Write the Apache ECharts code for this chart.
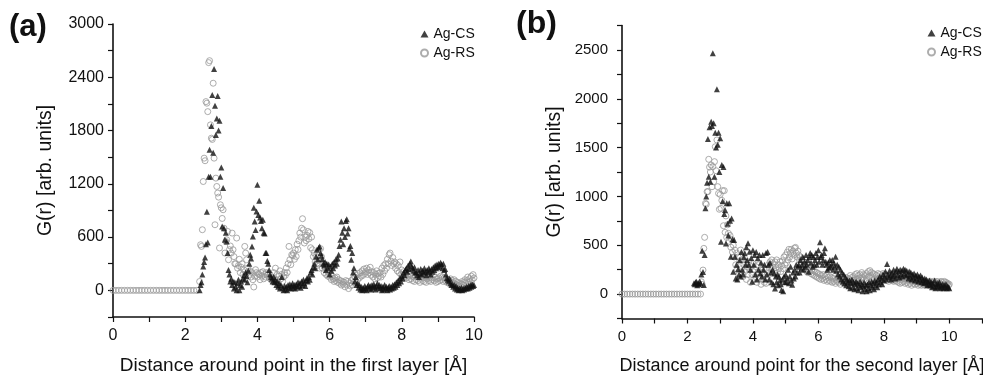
<!DOCTYPE html>
<html>
<head>
<meta charset="utf-8">
<script src="https://cdn.jsdelivr.net/npm/echarts@6/dist/echarts.min.js"></script>
<style>
  html, body { margin: 0; padding: 0; background: #fff; }
  #chart { width: 983px; height: 379px; }
</style>
</head>
<body>
<div id="chart"></div>
<script>
// Radial distribution G(r) around a point, first layer (a) and second layer (b).
// Samples are spaced R_STEP apart starting at each series' start radius;
// the flat G = 0 stretch below 2.4 Å is sampled every ZERO_STEP.
const R_STEP = 0.025;
const ZERO_STEP = 0.08;

const seriesNames = ['Ag-CS', 'Ag-RS'];
const xTitleA = 'Distance around point in the first layer [Å]';
const xTitleB = 'Distance around point for the second layer [Å]';
const yTitle = 'G(r) [arb. units]';

// G(r) = 0 region (r = 0 ... 2.32 Å)
const rsZeroA = [0,0,0,0,0,0,0,0,0,0,0,0,0,0,0,0,0,0,0,0,0,0,0,0,0,0,0,0,0,0];
const rsZeroB = [0,0,0,0,0,0,0,0,0,0,0,0,0,0,0,0,0,0,0,0,0,0,0,0,0,0,0,0,0,0];

// (a) Ag-CS, r from 2.40 Å
const csStartA = 2.4;
const csA = [
  0,60,90,180,270, 320,370,520,885,540, 1280,1583,1280,1850,2200, 1550,2494,2080,1750,1935, 2190,1800,1910,1280,1384, 720,1152,700,570,650, 550,420,230,180,100, 130,60,100,20,90,
  40,0,80,120,0, 60,100,40,130,170, 120,200,160,90,220, 300,400,360,495,607, 930,777,680,888,1190, 850,1008,820,780,700, 795,650,640,420,420, 330,300,230,180,150,
  130,100,150,90,120, 60,100,40,80,20, 60,150,30,0,50, 10,40,0,60,30, 70,20,50,80,30, 60,20,70,40,90, 50,80,30,100,60, 120,80,50,110,140,
  100,150,120,200,230, 180,260,300,250,380, 458,350,480,495,420, 390,350,300,280,320, 230,300,250,290,180, 270,220,300,250,320, 280,350,300,360,400, 500,570,776,650,520,
  700,600,780,800,640, 700,470,500,345,420, 200,250,100,150,60, 80,30,60,10,40, 0,30,10,50,20, 0,40,60,20,50, 10,60,30,70,40, 10,50,80,30,60,
  20,50,0,40,10, 60,20,40,0,30, 50,10,40,20,60, 30,70,40,90,60, 110,80,140,100,160, 130,200,170,230,250, 210,280,240,300,326, 270,250,220,260,200,
  200,170,230,150,190, 240,180,220,200,250, 210,170,230,200,250, 220,180,240,210,260, 230,280,250,290,260, 300,270,310,290,250, 300,230,240,180,140, 120,100,130,80,60,
  70,40,60,20,50, 10,30,0,20,10, 30,0,20,10,30, 20,40,20,50,30, 60,40,70,50,60
];

// (a) Ag-RS, r from 2.40 Å
const rsStartA = 2.4;
const rsA = [
  100,514,495,683,1226, 1489,1460,2126,2108,2013, 2565,2587,1864,1714,1700, 2333,1489,739,1264,1170, 1096,1050,477,964,930, 810,908,700,420,550, 570,664,345,458,500, 420,645,458,380,300,
  300,589,250,280,350, 200,260,300,180,230, 495,420,345,250,214, 180,220,150,200,120, 38,160,233,200,150, 190,177,120,200,160, 210,130,180,150,200, 170,190,140,180,120,
  150,100,200,130,250, 120,180,90,160,220, 130,180,100,150,200, 170,252,200,300,495, 345,290,400,390,420, 350,458,382,520,460, 560,645,600,700,807, 683,533,600,560,620,
  664,580,650,480,600, 458,380,420,320,380, 280,340,300,250,470, 380,250,300,200,260, 180,220,160,200,150, 180,120,160,130,100, 140,110,150,90,120, 80,110,60,100,70,
  90,40,110,60,100, 20,80,50,110,60, 130,90,150,100,170, 120,190,140,200,160, 220,170,240,190,210, 250,180,230,200,260, 170,210,150,200,130, 180,220,140,190,160,
  200,150,250,180,280, 220,300,250,350,300, 402,420,330,280,370, 300,320,250,300,220, 280,200,320,180,230, 170,210,150,190,140, 200,160,120,180,130, 170,110,150,100,160,
  120,170,110,150,90, 140,180,110,160,100, 140,90,130,160,110, 150,100,140,120,170, 110,150,90,130,100, 140,110,160,120,150, 100,140,110,130,90, 120,80,110,130,90,
  110,80,120,70,100, 60,90,50,80,40, 70,100,60,90,120, 80,110,150,90,130, 100,160,120,177,140
];

// (b) Ag-CS, r from 2.20 Å
const csStartB = 2.2;
const csB = [
  110,100,120,126,90,110,100,130,
  110,200,444,225,92, 400,878,1000,1140,1588, 1202,1708,1150,1765,1720, 2466,1748,1202,1653,1500, 2097,1530,1653,1250,1595, 536,1322,950,1300,820, 860,519,929,720,600, 929,750,382,775,560,
  228,553,382,160,300, 150,256,200,350,180, 430,250,200,380,417, 300,480,350,520,300, 433,250,370,126,450, 300,400,200,430,150, 366,250,400,212,320, 180,400,250,300,150,
  420,200,430,300,150, 320,220,120,250,100, 212,58,180,120,200, 90,177,140,100,41, 150,30,180,120,200, 125,160,250,110,180, 280,140,95,220,160, 250,180,300,220,280,
  300,220,350,260,300, 380,250,330,280,400, 300,350,228,380,420, 320,400,280,380,300, 350,420,300,380,450, 330,530,380,400,300, 350,420,470,330,300, 250,320,270,350,280,
  300,350,250,320,280, 382,240,300,200,280, 180,250,150,220,130, 200,110,170,90,150, 120,80,140,60,110, 150,70,120,50,100, 130,60,110,40,90, 130,70,100,30,80,
  120,50,90,30,100, 60,120,40,90,130, 70,110,50,140,90, 120,70,150,100,180, 120,160,100,200,140, 180,230,150,307,200, 170,240,190,150,220, 180,250,200,160,230,
  260,190,230,170,250, 200,240,180,260,210, 250,190,240,200,160, 230,180,220,150,200, 170,210,140,190,160, 200,130,180,150,190, 120,170,140,110,160, 120,150,90,130,100,
  140,90,120,70,110, 80,140,60,100,70, 110,80,120,60,90, 70,100,60,90,70, 100,60,80,70,60
];

// (b) Ag-RS, r from 2.40 Å
const rsStartB = 2.4;
const rsB = [
  0,126,100,246,468, 581,929,920,1048,1050, 1380,1300,1250,1322,1099, 1305,1150,1356,1509,1263, 1578,1100,1031,868,1020, 878,960,1059,700,1059, 632,800,580,710,622, 540,600,480,560,430,
  500,380,450,300,420, 250,380,200,340,451, 260,350,180,300,230, 320,150,280,200,330, 250,120,280,200,310, 150,250,180,280,120, 220,300,170,250,100, 220,150,260,120,200,
  110,250,180,300,220, 330,260,350,280,310, 240,330,270,350,220, 300,260,330,230,290, 340,260,380,300,400, 320,430,350,458,380, 420,458,360,440,400, 470,478,420,380,440,
  400,350,380,300,350, 280,330,260,300,240, 280,220,260,230,270, 210,250,200,240,190, 230,180,220,170,210, 160,200,150,190,160, 200,140,180,150,190, 130,170,140,180,130,
  170,120,160,130,180, 110,150,130,170,120, 160,100,150,130,170, 110,150,120,170,130, 160,110,150,190,130, 170,120,180,140,200, 150,210,160,190,140, 200,160,220,170,200,
  150,190,140,210,170, 230,180,240,190,220, 170,210,150,200,140, 190,150,210,160,200, 140,180,150,210,170, 200,150,190,140,180, 130,170,150,190,140, 180,130,170,140,160,
  130,170,120,160,110, 150,120,170,130,160, 110,150,120,140,100, 150,110,140,90,130, 110,150,100,140,110, 130,90,120,100,140, 90,120,100,130,90, 120,100,130,90,120,
  100,130,90,120,100, 130,90,120,100,130, 110,90,120,100,130, 90,120,100,130,90, 120,100,110,90,100
];

// Axis ranges and tick spacing
const xMaxA = 10, xMaxB = 11, xTick = 1, xLabelEvery = 2;
const yMinA = -300, yMaxA = 3000, yTickA = 300, yLabelEveryA = 600;
const yMinB = -250, yMaxB = 2750, yTickB = 250, yLabelEveryB = 500;

function toPairs(start, step, vals) {
  return vals.map((g, i) => [Math.round((start + i * step) * 1000) / 1000, g]);
}

const FONT = '"Liberation Sans", Arial, Helvetica, sans-serif';
const INK = '#111';
const RING = '#999';

function xAxisOf(grid, max, title, labelSize, titleSize) {
  return {
    type: 'value', gridIndex: grid, min: 0, max: max, interval: xTick,
    axisLine: { onZero: false, lineStyle: { color: INK, width: 1.6 } },
    axisTick: { length: 5, lineStyle: { color: INK, width: 1.2 } },
    axisLabel: {
      color: INK, fontFamily: FONT, fontSize: labelSize, margin: 11,
      formatter: v => (v % xLabelEvery === 0 && v <= 10) ? String(v) : ''
    },
    splitLine: { show: false },
    name: title, nameLocation: 'middle', nameGap: 39,
    nameTextStyle: { color: INK, fontFamily: FONT, fontSize: titleSize }
  };
}

function yAxisOf(grid, min, max, step, every, labelSize, labelGap) {
  return {
    type: 'value', gridIndex: grid, min: min, max: max, interval: step,
    axisLine: { show: true, onZero: false, lineStyle: { color: INK, width: 1.6 } },
    axisTick: { show: true, length: 5, lineStyle: { color: INK, width: 1.2 } },
    axisLabel: {
      color: INK, fontFamily: FONT, fontSize: labelSize, margin: labelGap,
      formatter: v => (v % every === 0) ? String(v) : ''
    },
    splitLine: { show: false },
    name: yTitle, nameLocation: 'middle', nameGap: 57,
    nameTextStyle: { color: INK, fontFamily: FONT, fontSize: 19.5 }
  };
}

function csSeries(idx, data) {
  return {
    name: seriesNames[0], type: 'scatter', xAxisIndex: idx, yAxisIndex: idx,
    symbol: 'triangle', symbolSize: 6, z: 3,
    itemStyle: { color: INK },
    data: data
  };
}
function rsSeries(idx, data) {
  return {
    name: seriesNames[1], type: 'scatter', xAxisIndex: idx, yAxisIndex: idx,
    symbol: 'circle', symbolSize: 6, z: 2,
    itemStyle: { color: 'rgba(255,255,255,0)', borderColor: RING, borderWidth: 1 },
    data: data
  };
}

function legendOf(left, top) {
  return {
    data: seriesNames, orient: 'vertical', left: left, top: top,
    itemWidth: 8, itemHeight: 7, itemGap: 5, padding: 0,
    selectedMode: false,
    textStyle: { color: INK, fontFamily: FONT, fontSize: 14 }
  };
}

const chart = echarts.init(document.getElementById('chart'), null, { renderer: 'canvas' });
chart.setOption({
  animation: false,
  backgroundColor: '#fff',
  title: [
    { text: '(a)', left: 9, top: 12, padding: 0,
      textStyle: { color: INK, fontFamily: FONT, fontSize: 31, fontWeight: 'bold' } },
    { text: '(b)', left: 516, top: 8, padding: 0,
      textStyle: { color: INK, fontFamily: FONT, fontSize: 32, fontWeight: 'bold' } }
  ],
  legend: [legendOf(420, 27), legendOf(927, 26)],
  grid: [
    { left: 113, top: 24, width: 361, height: 293, outerBoundsMode: 'none', containLabel: false },
    { left: 622, top: 25.5, width: 360, height: 293, outerBoundsMode: 'none', containLabel: false }
  ],
  xAxis: [xAxisOf(0, xMaxA, xTitleA, 16, 19), xAxisOf(1, xMaxB, xTitleB, 15, 18)],
  yAxis: [
    yAxisOf(0, yMinA, yMaxA, yTickA, yLabelEveryA, 16, 9),
    yAxisOf(1, yMinB, yMaxB, yTickB, yLabelEveryB, 15, 14)
  ],
  series: [
    csSeries(0, toPairs(csStartA, R_STEP, csA)),
    rsSeries(0, toPairs(0, ZERO_STEP, rsZeroA).concat(toPairs(rsStartA, R_STEP, rsA))),
    csSeries(1, toPairs(csStartB, R_STEP, csB)),
    rsSeries(1, toPairs(0, ZERO_STEP, rsZeroB).concat(toPairs(rsStartB, R_STEP, rsB)))
  ]
});
</script>
</body>
</html>
